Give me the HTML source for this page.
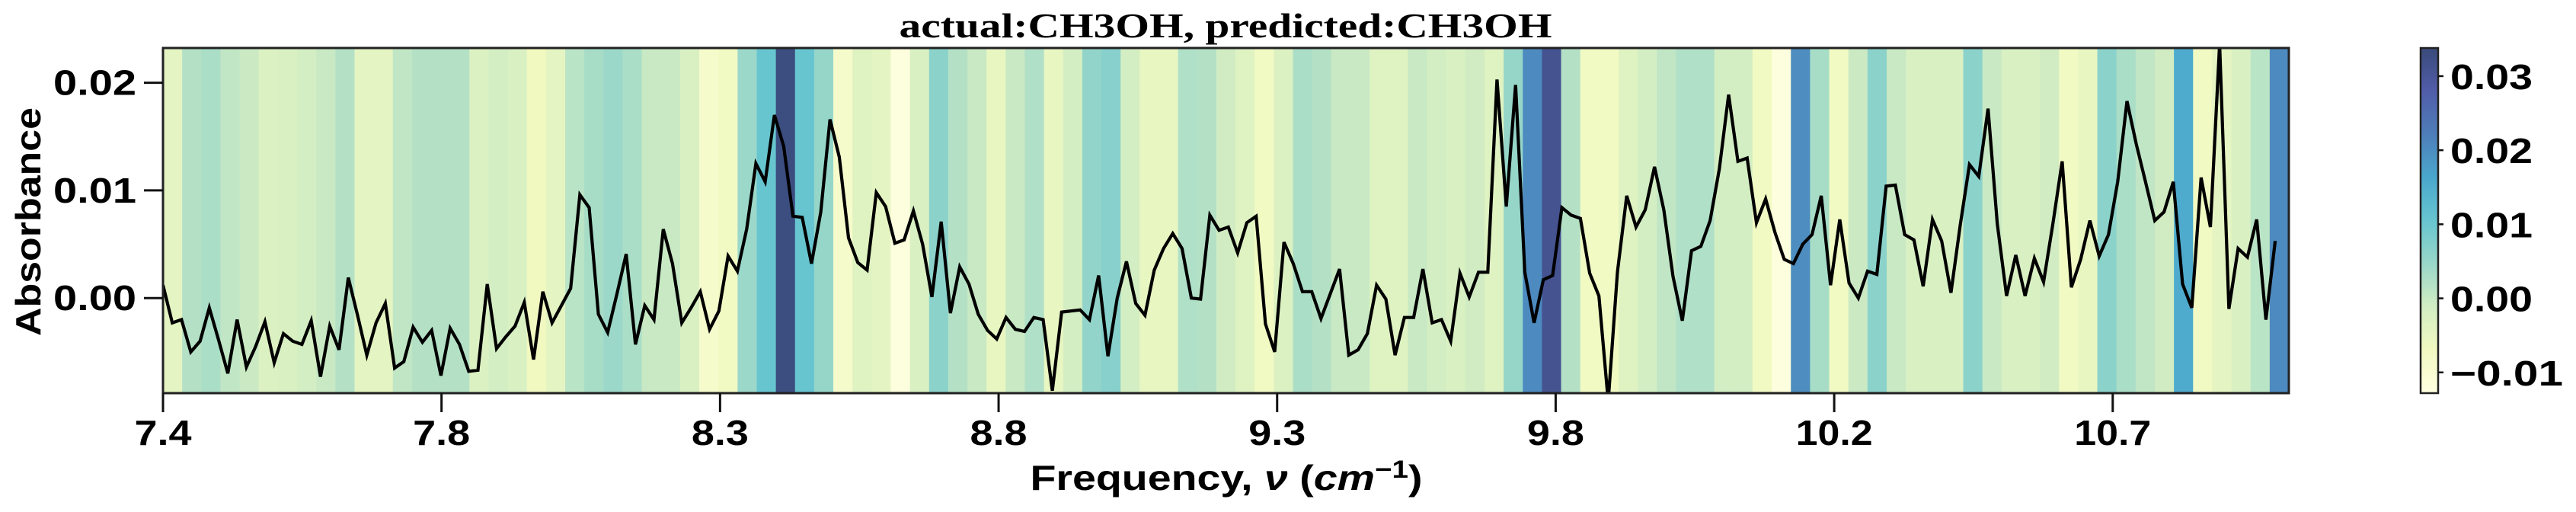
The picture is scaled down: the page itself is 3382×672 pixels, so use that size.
<!DOCTYPE html>
<html><head><meta charset="utf-8"><style>
html,body{margin:0;padding:0;background:#fff;}
svg{display:block;}
</style></head><body>
<svg id="chart" width="3382" height="672" viewBox="0 0 3382 672" xmlns="http://www.w3.org/2000/svg">
<defs>
<clipPath id="plotclip"><rect x="214" y="63" width="2791" height="453"/></clipPath>
<linearGradient id="cbgrad" x1="0" y1="1" x2="0" y2="0">
<stop offset="0" stop-color="#ffffe1"/><stop offset="0.125" stop-color="#f1f9c1"/><stop offset="0.25" stop-color="#d2edc3"/><stop offset="0.375" stop-color="#99d7c9"/><stop offset="0.5" stop-color="#67c5d0"/><stop offset="0.625" stop-color="#4aa7cd"/><stop offset="0.75" stop-color="#4e7eb9"/><stop offset="0.875" stop-color="#515da9"/><stop offset="1" stop-color="#394a7a"/>
</linearGradient>
</defs>
<g id="bands" clip-path="url(#plotclip)"></g>
<g id="line" clip-path="url(#plotclip)"></g>
<rect x="214" y="63" width="2791" height="453" fill="none" stroke="#222" stroke-width="3"/>
<g id="yaxis"></g>
<g id="xaxis"></g>
<text x="1609" y="49" text-anchor="middle" font-family="'Liberation Serif', serif" font-weight="bold" font-size="46" textLength="857" lengthAdjust="spacingAndGlyphs">actual:CH3OH, predicted:CH3OH</text>
<text x="1610" y="643" text-anchor="middle" font-family="'Liberation Sans', sans-serif" font-weight="bold" font-size="46" textLength="515" lengthAdjust="spacingAndGlyphs">Frequency, <tspan font-style="italic">ν</tspan> (<tspan font-style="italic">cm</tspan><tspan dy="-16" font-size="32">−1</tspan><tspan dy="16">)</tspan></text>
<text transform="translate(53,291) rotate(-90)" text-anchor="middle" font-family="'Liberation Sans', sans-serif" font-weight="bold" font-size="46" textLength="300" lengthAdjust="spacingAndGlyphs">Absorbance</text>
<rect x="3178" y="63" width="23" height="453" fill="url(#cbgrad)" stroke="#222" stroke-width="2.5"/>
<g id="cbaxis"></g>
</svg>
<script>
const absorbance = [1.2,-2.3,-2.0,-5.0,-4.0,-0.9,-3.9,-7.0,-2.0,-6.4,-4.5,-2.2,-6.0,-3.3,-4.0,-4.3,-2.1,-7.3,-2.6,-4.8,1.9,-1.6,-5.3,-2.3,-0.5,-6.5,-5.9,-2.7,-4.1,-3.0,-7.2,-2.8,-4.3,-6.8,-6.7,1.3,-4.7,-3.6,-2.6,-0.4,-5.7,0.6,-2.3,-0.7,0.9,9.6,8.4,-1.5,-3.2,0.4,4.1,-4.3,-0.7,-2.0,6.4,3.2,-2.3,-0.9,0.6,-2.9,-1.2,3.9,2.5,6.4,12.5,10.8,17.0,14.1,7.6,7.5,3.2,8.0,16.6,13.1,5.6,3.3,2.6,9.8,8.5,5.1,5.4,8.1,5.0,0.1,7.1,-1.4,2.9,1.3,-1.5,-3.0,-3.8,-1.8,-2.9,-3.1,-1.8,-2.0,-8.6,-1.3,-1.2,-1.1,-2.0,2.1,-5.4,0.0,3.4,-0.5,-1.6,2.6,4.6,6.0,4.6,0.0,-0.1,7.7,6.3,6.6,4.2,7.0,7.6,-2.4,-5.0,5.2,3.2,0.6,0.6,-1.9,0.4,2.7,-5.3,-4.8,-3.3,1.2,-0.1,-5.3,-1.8,-1.8,2.7,-2.3,-2.0,-4.0,2.3,0.1,2.4,2.4,20.3,8.5,19.8,2.4,-2.3,1.7,2.1,8.4,7.7,7.4,2.3,0.2,-9.6,2.4,9.5,6.6,8.2,12.2,8.2,2.0,-2.1,4.4,4.8,7.2,12.0,18.9,12.7,13.0,7.0,9.2,6.1,3.6,3.2,5.0,5.9,9.5,1.2,7.3,1.4,0.0,2.5,2.2,10.4,10.5,5.9,5.4,1.1,7.3,5.3,0.5,6.8,12.4,11.3,17.6,6.9,0.2,4.0,0.2,3.7,1.5,6.9,12.7,1.0,3.6,7.2,3.9,5.9,10.8,18.3,14.3,10.8,7.2,8.0,10.8,1.3,-0.9,11.2,6.6,23.6,-1.0,4.6,3.8,7.3,-2.0,5.3];
const bandValues = [-4.5,1.9,2.8,0.6,-0.4,-3,-2.5,-1.6,-0.1,1.9,-4.5,-4.5,0.6,1.9,1.9,1.9,-3,-1.6,-2.5,-7,-4.5,1.3,3.2,4.4,2.8,-0.1,-0.1,-2.5,-9,-7.5,4.4,10.5,33,10.5,5,-9,-3.5,-4.5,-12,-2.5,6.3,1.9,-0.1,-5.3,-0.1,2.3,-5.3,-1.6,5.5,6.8,-1.6,-5.3,-5.3,2.3,1.9,-1,-3.5,-7.5,-3,2.8,1.9,-0.1,-0.1,-3.5,-3.5,-0.1,-1.6,-2.5,-1,-3.5,5,20.5,31,1.9,-7.5,-7.5,-3.5,-1.6,0.6,2.3,2.3,-1.6,-1.6,-7.5,-12,20,3.2,-7.5,-0.4,6.3,-0.1,-2.5,-2.5,-2.5,6.3,-0.1,-2.5,-2.5,-1,-7.5,-5.3,6.3,2.8,0.6,-1,15.5,-7.5,-4.5,-2.5,1.3,20.5];
const yTicks = [0.0, 10.0, 20.0];
const yTickLabels = ["0.00","0.01","0.02"];
const xTicks = [7.4, 7.88, 8.36, 8.84, 9.32, 9.8, 10.28, 10.76];
const xTickLabels = ["7.4","7.8","8.3","8.8","9.3","9.8","10.2","10.7"];
const cbTicks = [-10, 0, 10, 20, 30];
const cbTickLabels = ["\u22120.01","0.00","0.01","0.02","0.03"];

const NS = "http://www.w3.org/2000/svg";
const PL = 214, PR = 3005, PT = 63, PB = 516;
const xMin = 7.4, xMax = 11.0635;
const lineStart = 7.4, lineEnd = 11.04;
const yMin = -8.83, yMax = 23.23;
const cMin = -12.8, cMax = 33.8;
const xs = v => PL + (v - xMin) / (xMax - xMin) * (PR - PL);
const ys = v => PB - (v - yMin) / (yMax - yMin) * (PB - PT);
const cs = v => PB - (v - cMin) / (cMax - cMin) * (PB - PT);
const stops = [[255,255,225],[241,249,193],[210,237,195],[153,215,201],[103,197,208],[74,167,205],[78,126,185],[81,93,169],[57,74,122]];
function cmap(v){
  let t = Math.max(0, Math.min(1, (v - cMin) / (cMax - cMin))) * 8;
  let i = Math.min(7, Math.floor(t)), f = t - i;
  const c = stops[i].map((a,k)=>Math.round(a + (stops[i+1][k]-a)*f));
  return `rgb(${c[0]},${c[1]},${c[2]})`;
}
function mk(tag, attrs, parent){
  const e = document.createElementNS(NS, tag);
  for (const k in attrs) e.setAttribute(k, attrs[k]);
  parent.appendChild(e); return e;
}
const bandsG = document.getElementById('bands');
const bw = (xMax - xMin) / bandValues.length;
bandValues.forEach((v,i)=>{
  const x0 = xs(xMin + i*bw), x1 = xs(xMin + (i+1)*bw);
  const r = mk('rect', {x:x0, y:PT, width:(x1-x0+0.6), height:PB-PT, fill:cmap(v)}, bandsG);
  
  
});
const step = (lineEnd - lineStart) / (absorbance.length - 1);
const pts = absorbance.map((v,i)=>xs(lineStart + i*step).toFixed(1)+','+ys(v).toFixed(1)).join(' ');
const pl = mk('polyline', {points:pts, fill:'none', stroke:'#000', 'stroke-width':4.2, 'stroke-linejoin':'miter'}, document.getElementById('line'));


const font = "'Liberation Sans', sans-serif";
const yG = document.getElementById('yaxis');
yTicks.forEach((v,i)=>{
  const y = ys(v);
  const t = mk('line', {x1:PL-25, x2:PL, y1:y, y2:y, stroke:'#111', 'stroke-width':3}, yG);
  
  
  const l = mk('text', {x:179, y:y+16, 'text-anchor':'end', 'font-family':font, 'font-weight':'bold', 'font-size':46, textLength:109, lengthAdjust:'spacingAndGlyphs'}, yG);
  l.textContent = yTickLabels[i];
  
  
});
const xG = document.getElementById('xaxis');
xTicks.forEach((v,i)=>{
  const x = xs(v);
  const t = mk('line', {x1:x, x2:x, y1:PB, y2:PB+25, stroke:'#111', 'stroke-width':3}, xG);
  
  
  const l = mk('text', {x:x, y:584, 'text-anchor':'middle', 'font-family':font, 'font-weight':'bold', 'font-size':46, textLength:(xTickLabels[i].length>3?101:75), lengthAdjust:'spacingAndGlyphs'}, xG);
  l.textContent = xTickLabels[i];
  
  
});
const cG = document.getElementById('cbaxis');
cbTicks.forEach((v,i)=>{
  const y = cs(v);
  const t = mk('line', {x1:3201, x2:3208, y1:y, y2:y, stroke:'#111', 'stroke-width':2.5}, cG);
  
  
  const neg = cbTickLabels[i].length > 4;
  const l = mk('text', {x:3217, y:y+17, 'font-family':font, 'font-weight':'bold', 'font-size':46, textLength:(neg?148:108), lengthAdjust:'spacingAndGlyphs'}, cG);
  l.textContent = cbTickLabels[i];
  
  
});
</script>
</body></html>
